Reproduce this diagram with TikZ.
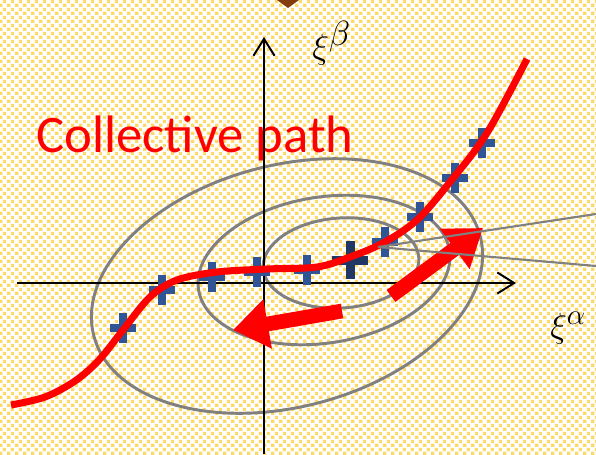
\documentclass[tikz,border=0pt]{standalone}
\usepackage{fontspec}
\newfontfamily\yaziFont{Carlito}
\usepackage{amsmath}
\usetikzlibrary{arrows.meta,patterns.meta}
\definecolor{yolKirmizi}{HTML}{FF0000}
\definecolor{elipsGri}{HTML}{808080}
\definecolor{artiMavi}{HTML}{2F5597}
\definecolor{koyuLacivert}{HTML}{1F3864}
\definecolor{desenSari}{HTML}{FFD966}
\definecolor{kahve}{HTML}{843C0C}
\tikzdeclarepattern{
  name=noktaIzgara,
  type=uncolored,
  bottom left={(0pt,0pt)},
  top right={(5.69pt,5.69pt)},
  tile size={(5.69pt,5.69pt)},
  code={
    \fill (0.15pt,0.15pt) rectangle (2.7pt,2.7pt);
    \fill (3pt,3pt) rectangle (5.54pt,5.54pt);
  }
}

\begin{document}
\begin{tikzpicture}[x=0.025cm,y=-0.025cm,
  elips/.style={draw=elipsGri,line width=2.1pt},
  eksen/.style={draw=black,line width=1.4pt,-{Straight Barb[length=12pt,width=15pt]}},
  arti/.style={draw=artiMavi,line width=5pt},
  yol/.style={draw=yolKirmizi,line width=5pt},
  kalinOk/.style={draw=yolKirmizi,line width=10.5pt,-{Triangle[length=25pt,width=34pt]}},
  inceCizgi/.style={draw=elipsGri,line width=1.5pt}]
\useasboundingbox (0,0) rectangle (596,454);
% arka plan
\fill[white] (0,0) rectangle (596,454);
\fill[pattern=noktaIzgara,pattern color=desenSari] (0,0) rectangle (596,454);
\fill[kahve] (277,0) -- (299,0) -- (288,8) -- cycle;
% es enerji egrileri
\draw[elips,rotate around={14.4:(287,286)}] (287,286) ellipse [x radius=199.5, y radius=121];
\draw[elips,rotate around={8.9:(324,270)}] (324,270) ellipse [x radius=127, y radius=73];
\draw[elips,rotate around={4:(341,263)}] (341,263) ellipse [x radius=78, y radius=45];
\node[text=yolKirmizi,anchor=base west,inner sep=0pt] (baslik) at (36,152) {\fontsize{37.5}{45}\selectfont\yaziFont Collective path};
% eksenler
\coordinate (alt) at (264,454);
\coordinate (ust) at (264,37);
\coordinate (sol) at (17,283);
\coordinate (sag) at (516,283);
\draw[eksen] (alt) -- (ust);
\draw[eksen] (sol) -- (sag);
\node[anchor=base west,inner sep=0pt] (xib) at (312,58) {\fontsize{38}{42}\selectfont$\xi^{\beta}$};
\node[anchor=base west,inner sep=0pt] (xia) at (550,337) {\fontsize{32}{36}\selectfont$\xi^{\alpha}$};
% noktalar
\foreach \p in {(123,328),(162,290),(212,277),(257,272),(307,270),(385,242),(420,217),(455,178),(482,143)}
  \draw[arti] \p +(-13,0) -- +(13,0) \p +(0,-15) -- +(0,15);
\draw[arti,draw=koyuLacivert,line width=6.4pt] (350,260) +(-18,0) -- +(18,0) (350,260) +(0,-19) -- +(0,19);
% toplu yol
\draw[yol] plot[smooth,tension=0.55] coordinates {(11,405) (45,397) (75,381) (99,360) (123,330) (150,297) (177,280) (217,272) (267,269) (317,267) (350,257) (383,243) (417,220) (450,182) (487,133) (527,59)};
% oklar
\coordinate (ok1a) at (391,296);
\coordinate (ok1b) at (483,228);
\coordinate (ok2a) at (342,311);
\coordinate (ok2b) at (233,330);
\draw[kalinOk] (ok1a) -- (ok1b);
\draw[kalinOk] (ok2a) -- (ok2b);
\coordinate (kok) at (378,247);
\draw[inceCizgi] (kok) -- (596,214);
\draw[inceCizgi] (kok) -- (596,266);
\end{tikzpicture}
\end{document}
